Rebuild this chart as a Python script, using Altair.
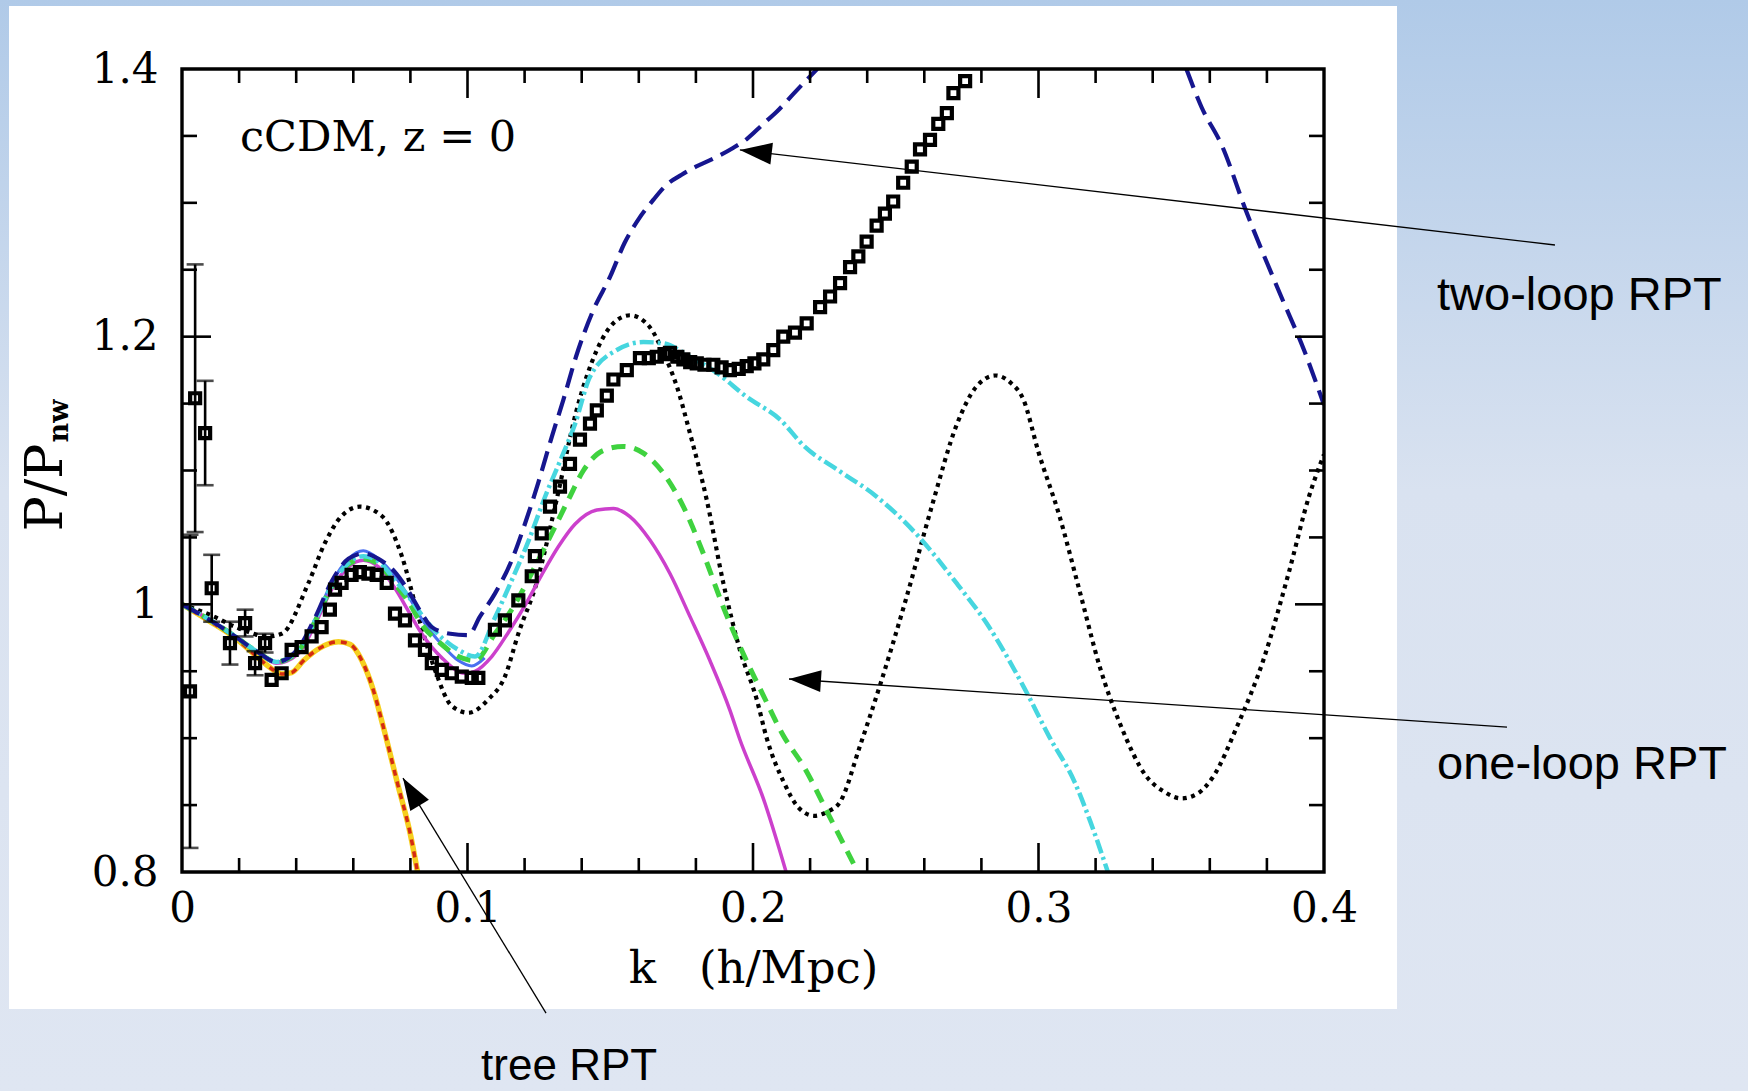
import math
import altair as alt
import pandas as pd

# ---------------- data ----------------
# linear theory (black dotted)
lin_k = [0.0, 0.010, 0.020, 0.030, 0.0349, 0.0443, 0.0501, 0.0559, 0.0623, 0.0700, 0.0770, 0.0828,
         0.0886, 0.0945, 0.1003, 0.1073, 0.1131, 0.1178, 0.1242, 0.1312, 0.1382, 0.1453, 0.1511,
         0.1569, 0.1639, 0.1686, 0.1733, 0.1779, 0.1838, 0.1896, 0.1954, 0.2013, 0.2048, 0.2108,
         0.2160, 0.2215, 0.2260, 0.2304, 0.2376, 0.2447, 0.2536, 0.2626, 0.2715, 0.2780, 0.2849,
         0.2900, 0.2947, 0.3001, 0.3072, 0.3144, 0.3215, 0.3287, 0.3376, 0.3440, 0.3501, 0.3560,
         0.3608, 0.3698, 0.3787, 0.3877, 0.3948, 0.4000]
lin_v = [1.000, 0.992, 0.982, 0.976, 0.978, 1.016, 1.046, 1.066, 1.073, 1.066, 1.036, 0.991,
         0.951, 0.924, 0.919, 0.929, 0.946, 0.978, 1.016, 1.078, 1.145, 1.190, 1.210,
         1.216, 1.207, 1.188, 1.163, 1.128, 1.078, 1.016, 0.966, 0.929, 0.900, 0.867,
         0.848, 0.842, 0.845, 0.852, 0.895, 0.941, 1.004, 1.073, 1.135, 1.162, 1.171,
         1.166, 1.153, 1.113, 1.067, 1.010, 0.953, 0.910, 0.872, 0.860, 0.855, 0.859,
         0.870, 0.910, 0.958, 1.024, 1.081, 1.112]

# two-loop RPT (dark blue long dashes), two visible pieces
two_k = [0.0, 0.0092, 0.0186, 0.0267, 0.0330, 0.0407, 0.0466, 0.0524, 0.0583, 0.0637, 0.0688,
         0.0746, 0.0793, 0.0840, 0.0875, 0.0940, 0.1003, 0.1044, 0.1096, 0.1155, 0.1201, 0.1248,
         0.1295, 0.1336, 0.1380, 0.1441, 0.1500, 0.1550, 0.1600, 0.1650, 0.1700, 0.1750, 0.1800,
         0.1860, 0.1930, 0.1980, 0.2036, 0.2083, 0.2144, 0.2225]
two_v = [1.000, 0.989, 0.976, 0.964, 0.957, 0.967, 0.990, 1.017, 1.034, 1.038, 1.034,
         1.024, 1.010, 0.993, 0.983, 0.978, 0.977, 0.991, 1.008, 1.033, 1.060, 1.091,
         1.125, 1.153, 1.185, 1.220, 1.245, 1.270, 1.288, 1.302, 1.314, 1.321, 1.327,
         1.333, 1.341, 1.348, 1.359, 1.368, 1.382, 1.400]
two_k2 = [0.3518, 0.3570, 0.3644, 0.3725, 0.3844, 0.3930, 0.4000]
two_v2 = [1.400, 1.372, 1.342, 1.295, 1.233, 1.190, 1.149]

# cyan dash-dot
cy_k = [0.0, 0.0092, 0.0186, 0.0267, 0.0330, 0.0407, 0.0466, 0.0524, 0.0583, 0.0635, 0.0688,
        0.0746, 0.0793, 0.0840, 0.0910, 0.0968, 0.1026, 0.1096, 0.1155, 0.1213, 0.1271, 0.1330,
        0.1377, 0.1429, 0.1523, 0.1616, 0.1686, 0.1779, 0.1873, 0.1978, 0.2095, 0.2180, 0.2300,
        0.2430, 0.2570, 0.2716, 0.2824, 0.2949, 0.3038, 0.3127, 0.3181, 0.3243]
cy_v = [1.000, 0.989, 0.976, 0.964, 0.957, 0.966, 0.988, 1.014, 1.031, 1.036, 1.032,
        1.018, 1.006, 0.992, 0.975, 0.966, 0.961, 0.990, 1.018, 1.047, 1.080, 1.110,
        1.135, 1.170, 1.190, 1.196, 1.195, 1.185, 1.173, 1.155, 1.138, 1.118, 1.100,
        1.081, 1.053, 1.015, 0.984, 0.938, 0.901, 0.867, 0.838, 0.800]

# green dashed
gr_k = [0.0, 0.0092, 0.0186, 0.0267, 0.0330, 0.0407, 0.0466, 0.0524, 0.0583, 0.0635, 0.0688,
        0.0746, 0.0793, 0.0840, 0.0910, 0.0968, 0.1026, 0.1096, 0.1166, 0.1236, 0.1295, 0.1353,
        0.1406, 0.1476, 0.1546, 0.1616, 0.1686, 0.1756, 0.1826, 0.1896, 0.1966, 0.2036, 0.2106,
        0.2180, 0.2269, 0.2367]
gr_v = [1.000, 0.989, 0.976, 0.964, 0.957, 0.965, 0.987, 1.013, 1.030, 1.034, 1.030,
        1.015, 1.002, 0.985, 0.970, 0.961, 0.958, 0.978, 1.000, 1.028, 1.053, 1.078,
        1.100, 1.115, 1.118, 1.113, 1.098, 1.073, 1.038, 0.998, 0.963, 0.932, 0.902,
        0.878, 0.841, 0.800]

# magenta solid
mg_k = [0.0, 0.0092, 0.0186, 0.0267, 0.0330, 0.0407, 0.0466, 0.0524, 0.0583, 0.0635, 0.0688,
        0.0746, 0.0793, 0.0840, 0.0910, 0.0991, 0.1026, 0.1085, 0.1143, 0.1201, 0.1260, 0.1318,
        0.1377, 0.1453, 0.1511, 0.1569, 0.1639, 0.1709, 0.1779, 0.1849, 0.1919, 0.1954, 0.2036,
        0.2116]
mg_v = [1.000, 0.989, 0.976, 0.964, 0.956, 0.963, 0.985, 1.011, 1.028, 1.033, 1.028,
        1.012, 0.995, 0.978, 0.960, 0.9485, 0.950, 0.961, 0.979, 0.999, 1.022, 1.043,
        1.060, 1.0705, 1.0717, 1.0655, 1.048, 1.023, 0.991, 0.958, 0.921, 0.899, 0.855,
        0.800]

# medium blue solid (low k only)
mb_k = [0.0, 0.0092, 0.0186, 0.0267, 0.0330, 0.0407, 0.0466, 0.0524, 0.0583, 0.0635, 0.0688,
        0.0746, 0.0793, 0.0840, 0.0910, 0.0968, 0.1015, 0.1060]
mb_v = [1.000, 0.989, 0.976, 0.964, 0.957, 0.966, 0.989, 1.016, 1.034, 1.040, 1.034,
        1.021, 1.006, 0.989, 0.970, 0.958, 0.954, 0.960]

# tree RPT (yellow solid under red dashes)
tr_k = [0.0, 0.0092, 0.0186, 0.0267, 0.0320, 0.0349, 0.0384, 0.0426, 0.0480, 0.0548, 0.0590,
        0.0630, 0.0670, 0.0708, 0.0755, 0.0801, 0.0825]
tr_v = [1.000, 0.988, 0.975, 0.960, 0.951, 0.948, 0.949, 0.958, 0.967, 0.972, 0.970,
        0.958, 0.936, 0.906, 0.866, 0.827, 0.800]

# N-body measurements (open squares)
nb_k = [0.0028, 0.0046, 0.0081, 0.0104, 0.0168, 0.0221, 0.0256, 0.0291, 0.0314, 0.0349, 0.0384,
        0.0419, 0.0454, 0.0489, 0.0518, 0.0536, 0.0559, 0.0594, 0.0623, 0.0653, 0.0682, 0.0717,
        0.0746, 0.0781, 0.0816, 0.0851, 0.0875, 0.0910, 0.0945, 0.0980, 0.1015, 0.1038, 0.1096,
        0.1131, 0.1178, 0.1225, 0.1236, 0.1260, 0.1289, 0.1324, 0.1359, 0.1394, 0.1429, 0.1453,
        0.1488, 0.1511, 0.1558, 0.1604, 0.1635, 0.1663, 0.1690, 0.1709, 0.1735, 0.1756, 0.1780,
        0.1803, 0.1830, 0.1861, 0.1890, 0.1919, 0.1950, 0.1978, 0.2005, 0.2036, 0.2071, 0.2106,
        0.2147, 0.2188, 0.2235, 0.2270, 0.2305, 0.2340, 0.2369, 0.2398, 0.2433, 0.2462, 0.2491,
        0.2526, 0.2556, 0.2585, 0.2620, 0.2649, 0.2679, 0.2702, 0.2743]
nb_v = [0.935, 1.154, 1.128, 1.012, 0.971, 0.986, 0.956, 0.971, 0.9435, 0.9485, 0.966,
        0.968, 0.976, 0.983, 0.996, 1.011, 1.016, 1.022, 1.024, 1.023, 1.022, 1.016,
        0.993, 0.988, 0.973, 0.966, 0.956, 0.951, 0.9485, 0.946, 0.945, 0.945, 0.981,
        0.988, 1.003, 1.021, 1.036, 1.053, 1.073, 1.088, 1.105, 1.123, 1.135, 1.145,
        1.156, 1.168, 1.175, 1.184, 1.184, 1.185, 1.187, 1.188, 1.185, 1.183, 1.181,
        1.180, 1.179, 1.179, 1.177, 1.175, 1.176, 1.178, 1.180, 1.183, 1.190, 1.200,
        1.203, 1.210, 1.222, 1.230, 1.240, 1.252, 1.260, 1.271, 1.283, 1.292, 1.301,
        1.315, 1.327, 1.340, 1.347, 1.359, 1.367, 1.382, 1.391]
# error bars of the first measurements
eb_k = [0.0028, 0.0046, 0.0081, 0.0104, 0.0168, 0.0221, 0.0256, 0.0291]
eb_v = [0.935, 1.154, 1.128, 1.012, 0.971, 0.986, 0.956, 0.971]
eb_err = [0.117, 0.100, 0.039, 0.025, 0.016, 0.010, 0.009, 0.007]

# axis ticks / labels
x_label_values = [0.0, 0.1, 0.2, 0.3, 0.4]
y_label_values = [0.8, 1.0, 1.2, 1.4]
x_minor_ticks = [0.02, 0.04, 0.06, 0.08, 0.12, 0.14, 0.16, 0.18, 0.22, 0.24, 0.26, 0.28,
                 0.32, 0.34, 0.36, 0.38]
x_major_ticks = [0.1, 0.2, 0.3]
y_minor_ticks = [0.85, 0.9, 0.95, 1.05, 1.1, 1.15, 1.25, 1.3, 1.35]
y_major_ticks = [1.0, 1.2]

# texts
x_title = "k\u00a0\u00a0\u00a0(h/Mpc)"
y_title = "P/P"
y_title_sub = "nw"
panel_label = "cCDM, z = 0"

# annotations (text, arrow tip k/v, arrow tail k/v, label k/v)
annotations = [
    {"text": "two-loop RPT", "tip": (0.1954, 1.3395), "tail": (0.4809, 1.2685),
     "label": (0.4396, 1.2199), "align": "left", "size": 47},
    {"text": "one-loop RPT", "tip": (0.2126, 0.9442), "tail": (0.4641, 0.9083),
     "label": (0.4396, 0.8695), "align": "left", "size": 47},
    {"text": "tree RPT", "tip": (0.0774, 0.8702), "tail": (0.1275, 0.6946),
     "label": (0.1356, 0.6446), "align": "center", "size": 44},
]

# ---------------- layout ----------------
W, H = 1142, 803
PAD_L, PAD_T, PAD_R, PAD_B = 182, 69, 424, 219
CW, CH = 1748, 1091
XD, YD = [0.0, 0.4], [0.8, 1.4]
SERIF = "DejaVu Serif"

xs = alt.Scale(domain=XD, nice=False, zero=False)
ys = alt.Scale(domain=YD, nice=False, zero=False)

x_axis = alt.Axis(values=x_label_values,
                  labelExpr="datum.value == 0 ? '0' : format(datum.value, '.1f')",
                  ticks=False, domain=False, grid=False, zindex=1,
                  labelFont=SERIF, labelFontSize=42, labelColor="black", labelPadding=16,
                  labelOverlap=False, labelFlush=False,
                  titleFont=SERIF, titleFontSize=45, titleFontWeight="normal", titleColor="black",
                  titleX=571, titleY=110, titleAlign="center", titleBaseline="alphabetic")
y_axis = alt.Axis(values=y_label_values,
                  labelExpr="datum.value == 1 ? '1' : format(datum.value, '.1f')",
                  ticks=False, domain=False, grid=False, zindex=1,
                  labelFont=SERIF, labelFontSize=42, labelColor="black", labelPadding=24,
                  labelOverlap=False, labelFlush=False,
                  titleFont=SERIF, titleFontSize=52, titleFontWeight="normal", titleColor="black",
                  titleAngle=270, titleX=-121, titleY=418, titleAlign="center",
                  titleBaseline="alphabetic")


def X(field="k"):
    return alt.X(f"{field}:Q", scale=xs, axis=x_axis, title=x_title)


def Y(field="v"):
    return alt.Y(f"{field}:Q", scale=ys, axis=y_axis, title=y_title)


one = pd.DataFrame({"a": [0]})

bg = alt.Chart(one).mark_rect(
    color=alt.LinearGradient(
        gradient="linear", x1=0, x2=0, y1=0, y2=1,
        stops=[alt.GradientStop(color="#b0cae8", offset=0),
               alt.GradientStop(color="#d9e2f0", offset=0.45),
               alt.GradientStop(color="#dfe6f2", offset=1)])
).encode(x=alt.value(-PAD_L), x2=alt.value(CW - PAD_L),
         y=alt.value(-PAD_T), y2=alt.value(CH - PAD_T))

white = alt.Chart(one).mark_rect(color="white").encode(
    x=alt.value(-173), x2=alt.value(1215), y=alt.value(-63), y2=alt.value(940))


def line(k, v, color, width, dash=None):
    kw = dict(color=color, strokeWidth=width, clip=True, interpolate="monotone",
              strokeCap="butt", strokeJoin="round")
    if dash:
        kw["strokeDash"] = dash
    return alt.Chart(pd.DataFrame({"k": k, "v": v})).mark_line(**kw).encode(x=X(), y=Y())


layers = [
    bg, white,
    line(tr_k, tr_v, "#f6cf1e", 5.5),
    line(tr_k, tr_v, "#d42a12", 3.5, [6, 6]),
    line(lin_k, lin_v, "black", 4.2, [4, 4.6]),
    line(mb_k, mb_v, "#4a6ff0", 3),
    line(mg_k, mg_v, "#cc40cc", 3.5),
    line(gr_k, gr_v, "#3fd23f", 5, [14, 9]),
    line(cy_k, cy_v, "#46d6df", 4.5, [14, 4, 3, 4]),
    line(two_k, two_v, "#16168f", 4.2, [20, 9]),
    line(two_k2, two_v2, "#16168f", 4.2, [20, 9]),
]

# N-body squares with error bars
nb = pd.DataFrame({"k": nb_k, "v": nb_v})
eb = pd.DataFrame({"k": eb_k, "v": eb_v, "err": eb_err})
eb_base = alt.Chart(eb).transform_calculate(lo="datum.v - datum.err", hi="datum.v + datum.err")
layers += [
    eb_base.mark_rule(color="black", strokeWidth=2.6, clip=True).encode(x=X(), y=Y("lo"), y2="hi:Q"),
    eb_base.mark_tick(color="black", orient="horizontal", size=17, thickness=2.6, clip=True).encode(x=X(), y=Y("lo")),
    eb_base.mark_tick(color="black", orient="horizontal", size=17, thickness=2.6, clip=True).encode(x=X(), y=Y("hi")),
    alt.Chart(nb).mark_point(shape="square", filled=False, color="black", size=100,
                             strokeWidth=4.2, opacity=1, clip=True).encode(x=X(), y=Y()),
]

# frame and inward ticks
frame = alt.Chart(one).mark_rect(filled=False, stroke="black", strokeWidth=3.4).encode(
    x=alt.value(0), x2=alt.value(W), y=alt.value(0), y2=alt.value(H))
layers.append(frame)


def xticks(vals, length):
    d = pd.DataFrame({"k": vals})
    bottom = alt.Chart(d).mark_rule(color="black", strokeWidth=2.6).encode(
        x=X(), y=alt.value(H), y2=alt.value(H - length))
    top = alt.Chart(d).mark_rule(color="black", strokeWidth=2.6).encode(
        x=X(), y=alt.value(0), y2=alt.value(length))
    return [bottom, top]


def yticks(vals, length):
    d = pd.DataFrame({"v": vals})
    left = alt.Chart(d).mark_rule(color="black", strokeWidth=2.6).encode(
        y=Y(), x=alt.value(0), x2=alt.value(length))
    right = alt.Chart(d).mark_rule(color="black", strokeWidth=2.6).encode(
        y=Y(), x=alt.value(W), x2=alt.value(W - length))
    return [left, right]


layers += xticks(x_minor_ticks, 14) + xticks(x_major_ticks, 29)
layers += yticks(y_minor_ticks, 15) + yticks(y_major_ticks, 29)

# in-plot label and subscript of the y title
layers.append(alt.Chart(one).mark_text(text=panel_label, font=SERIF, fontSize=43, align="left",
                                       baseline="alphabetic", color="black").encode(
    x=alt.value(58), y=alt.value(82)))
layers.append(alt.Chart(one).mark_text(text=y_title_sub, font=SERIF, fontSize=27, fontWeight="bold",
                                       angle=270, align="center", baseline="alphabetic",
                                       color="black").encode(
    x=alt.value(-114), y=alt.value(352)))

# annotation arrows and labels
for a in annotations:
    (tk, tv), (lk, lv), (xk, xv) = a["tip"], a["tail"], a["label"]
    d = pd.DataFrame({"k": [lk], "v": [lv], "k1": [tk], "v1": [tv]})
    layers.append(alt.Chart(d).mark_rule(color="black", strokeWidth=1.3).encode(
        x=X(), y=Y(), x2="k1:Q", y2="v1:Q"))
    dx = (tk - lk) / (XD[1] - XD[0]) * W
    dy = -(tv - lv) / (YD[1] - YD[0]) * H
    ang = math.degrees(math.atan2(dx, -dy)) % 360
    dt = pd.DataFrame({"k": [tk], "v": [tv]})
    layers.append(alt.Chart(dt).mark_point(shape="M0,0 L0.34,1 L-0.34,1 Z", filled=True,
                                           color="black", opacity=1, size=4096, angle=ang,
                                           strokeWidth=0).encode(x=X(), y=Y()))
    dl = pd.DataFrame({"k": [xk], "v": [xv], "t": [a["text"]]})
    layers.append(alt.Chart(dl).mark_text(font="Liberation Sans", fontSize=a["size"],
                                          align=a["align"], baseline="alphabetic",
                                          color="black").encode(
        x=X(), y=Y(), text="t:N"))

chart = alt.layer(*layers).properties(
    width=W, height=H,
    autosize=alt.AutoSizeParams(type="none"),
    padding={"left": PAD_L, "top": PAD_T, "right": PAD_R, "bottom": PAD_B},
    background="#dfe6f2",
).configure_view(strokeWidth=0)

chart.save("out.html", embed_options={"renderer": "svg", "actions": False})
